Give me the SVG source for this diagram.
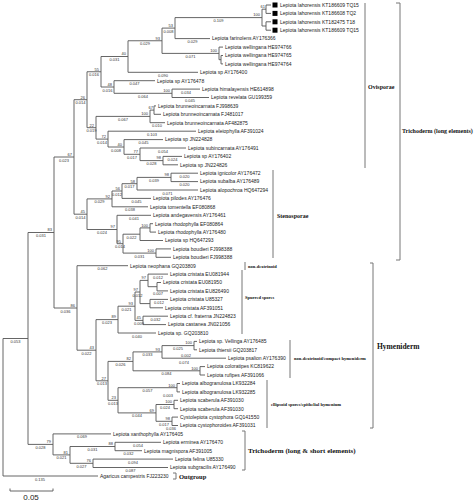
<svg xmlns="http://www.w3.org/2000/svg" width="474" height="501" viewBox="0 0 474 501">
<style>
.e{fill:none;stroke:#555;stroke-width:0.9}
.br{fill:none;stroke:#777;stroke-width:1}
.l{font-family:"Liberation Sans",Arial,sans-serif;font-size:5px;fill:#222}
.b{font-family:"Liberation Sans",Arial,sans-serif;font-size:4px;fill:#333;text-anchor:end}
.d{font-family:"Liberation Sans",Arial,sans-serif;font-size:4px;fill:#333;text-anchor:middle}
.c{font-family:"Liberation Serif","Times New Roman",serif;font-weight:bold;fill:#111}
.sq{fill:#000}
</style>
<rect width="474" height="501" fill="#fff"/>
<g id="connectors">
<path class="e" d="M3,338.5V476 M3,338.5H28 M3,476H98"/>
<path class="e" d="M28,232.5V444.4 M28,232.5H54 M28,444.4H53"/>
<path class="e" d="M54,157V308 M54,157H74 M54,308H77"/>
<path class="e" d="M74,99.7V214.2 M74,99.7H87 M74,214.2H87"/>
<path class="e" d="M87,71.75V127.7 M87,71.75H101 M87,127.7H96"/>
<path class="e" d="M101,56.5V87 M101,56.5H128 M101,87H114"/>
<path class="e" d="M128,40.75V72.3 M128,40.75H162 M128,72.3H198"/>
<path class="e" d="M162,28.1V53.4 M162,28.1H175 M162,53.4H219"/>
<path class="e" d="M175,17.6V38.6 M175,17.6H262 M175,38.6H210"/>
<path class="e" d="M262,9.2V26 M262,9.2H266 M262,26H266"/>
<path class="e" d="M266,5V13.4 M266,5H271 M266,13.4H271 M266,21.8V30.2 M266,21.8H271 M266,30.2H271"/>
<path class="e" d="M219,47.1V59.7 M219,47.1H223 M219,59.7H221 M221,55.5V63.9 M221,55.5H223 M221,63.9H223"/>
<path class="e" d="M114,80.7V93.3 M114,80.7H155 M114,93.3H172"/>
<path class="e" d="M172,89.1V97.5 M172,89.1H200 M172,97.5H209"/>
<path class="e" d="M96,116.4V139.1 M96,116.4H150 M96,139.1H108"/>
<path class="e" d="M150,110.1V122.7 M150,110.1H154 M150,122.7H165 M154,105.9V114.3 M154,105.9H156 M154,114.3H161"/>
<path class="e" d="M108,131.2V147 M108,131.2H196 M108,147H124"/>
<path class="e" d="M124,139.6V154.3 M124,139.6H163 M124,154.3H140"/>
<path class="e" d="M140,148V160.6 M140,148H186 M140,160.6H163"/>
<path class="e" d="M163,156.4V164.8 M163,156.4H182 M163,164.8H178"/>
<path class="e" d="M87,198.9V229.5 M87,198.9H112 M87,229.5H117"/>
<path class="e" d="M112,191V206.8 M112,191H122 M112,206.8H148"/>
<path class="e" d="M122,183.7V198.4 M122,183.7H137 M122,198.4H151"/>
<path class="e" d="M137,177.4V190 M137,177.4H171 M137,190H198"/>
<path class="e" d="M171,173.2V181.6 M171,173.2H198 M171,181.6H198"/>
<path class="e" d="M117,215.3V243.7 M117,215.3H151 M117,243.7H123"/>
<path class="e" d="M123,234.2V253.1 M123,234.2H140 M123,253.1H156"/>
<path class="e" d="M140,227.9V240.5 M140,227.9H150 M140,240.5H163"/>
<path class="e" d="M150,223.7V232.1 M150,223.7H153 M150,232.1H156"/>
<path class="e" d="M156,248.9V257.3 M156,248.9H171 M156,257.3H171"/>
<path class="e" d="M77,265.7V350.2 M77,265.7H128 M77,350.2H96"/>
<path class="e" d="M96,319.6V380.8 M96,319.6H118 M96,380.8H108"/>
<path class="e" d="M118,306.2V333 M118,306.2H135 M118,333H156"/>
<path class="e" d="M135,292V320.4 M135,292H140 M135,320.4H143"/>
<path class="e" d="M140,280.4V303.6 M140,280.4H148 M140,303.6H150"/>
<path class="e" d="M148,274.1V286.7 M148,274.1H168 M148,286.7H157"/>
<path class="e" d="M157,282.5V290.9 M157,282.5H161 M157,290.9H168"/>
<path class="e" d="M150,299.4V307.8 M150,299.4H168 M150,307.8H163"/>
<path class="e" d="M143,316.2V324.6 M143,316.2H168 M143,324.6H166"/>
<path class="e" d="M108,361.4V400.3 M108,361.4H133 M108,400.3H118"/>
<path class="e" d="M133,351.9V370.8 M133,351.9H162 M133,370.8H200"/>
<path class="e" d="M162,345.6V358.2 M162,345.6H194 M162,358.2H226"/>
<path class="e" d="M194,341.4V349.8 M194,341.4H197 M194,349.8H197"/>
<path class="e" d="M200,366.6V375 M200,366.6H205 M200,375H205"/>
<path class="e" d="M118,387.7V412.9 M118,387.7H177 M118,412.9H156"/>
<path class="e" d="M177,383.5V391.9 M177,383.5H180 M177,391.9H180"/>
<path class="e" d="M156,404.5V421.3 M156,404.5H174 M156,421.3H172"/>
<path class="e" d="M174,400.3V408.7 M174,400.3H178 M174,408.7H178"/>
<path class="e" d="M172,417.1V425.5 M172,417.1H178 M172,425.5H178"/>
<path class="e" d="M53,433.9V454.9 M53,433.9H111 M53,454.9H70"/>
<path class="e" d="M70,446.5V463.3 M70,446.5H115 M70,463.3H93"/>
<path class="e" d="M115,442.3V450.7 M115,442.3H161 M115,450.7H142"/>
<path class="e" d="M93,459.1V467.5 M93,459.1H173 M93,467.5H168"/>
</g>
<g id="support">
<text class="b" x="52" y="231">83</text><text class="b" x="51" y="443">79</text>
<text class="b" x="72" y="155.5">67</text><text class="b" x="75" y="306.5">86</text>
<text class="b" x="85" y="98.5">26</text><text class="b" x="85" y="213">45</text>
<text class="b" x="99" y="70.5">55</text><text class="b" x="94" y="126.5">22</text>
<text class="b" x="126" y="55.3">40</text><text class="b" x="112" y="85.8">48</text>
<text class="b" x="160" y="39.5">93</text><text class="b" x="173" y="26.9">53</text>
<text class="b" x="217" y="52.2">100</text><text class="b" x="260" y="16.4">100</text>
<text class="b" x="265" y="8">61</text><text class="b" x="170" y="92.1">100</text>
<text class="b" x="148" y="115.2">100</text><text class="b" x="153" y="108.9">67</text>
<text class="b" x="106" y="137.9">72</text><text class="b" x="122" y="145.8">40</text>
<text class="b" x="138" y="153.1">77</text><text class="b" x="161" y="159.4">98</text>
<text class="b" x="110" y="197.7">92</text><text class="b" x="115" y="228.3">97</text>
<text class="b" x="120" y="189.8">56</text><text class="b" x="135" y="182.5">58</text>
<text class="b" x="169" y="176.2">98</text><text class="b" x="121" y="242.5">95</text>
<text class="b" x="148" y="226.7">100</text><text class="b" x="154" y="251.9">100</text>
<text class="b" x="94" y="349">43</text><text class="b" x="116" y="318.4">89</text>
<text class="b" x="106" y="379.6">27</text><text class="b" x="133" y="305">93</text>
<text class="b" x="138" y="290.8">97</text><text class="b" x="141" y="319.2">45</text>
<text class="b" x="146" y="279.2">97</text><text class="b" x="131" y="360.2">82</text>
<text class="b" x="116" y="399.1">23</text><text class="b" x="160" y="350.7">93</text>
<text class="b" x="192" y="344.4">100</text><text class="b" x="198" y="369.6">100</text>
<text class="b" x="175" y="386.5">100</text><text class="b" x="154" y="411.7">69</text>
<text class="b" x="172" y="403.3">100</text><text class="b" x="170" y="420.1">98</text>
<text class="b" x="68" y="453.7">81</text><text class="b" x="113" y="445.3">88</text>
<text class="b" x="91" y="462.1">76</text>
</g>
<g id="lengths">
<text class="d" x="15.5" y="343">0.053</text><text class="d" x="40" y="480.5">0.135</text>
<text class="d" x="41" y="237">0.031</text><text class="d" x="40.5" y="449">0.028</text>
<text class="d" x="64" y="161.5">0.023</text><text class="d" x="65.5" y="312.5">0.036</text>
<text class="d" x="80.5" y="104.2">0.014</text><text class="d" x="80.5" y="218.7">0.014</text>
<text class="d" x="94" y="76.2">0.016</text><text class="d" x="91.5" y="132.2">0.019</text>
<text class="d" x="114.5" y="61">0.031</text><text class="d" x="107.5" y="91.5">0.016</text>
<text class="d" x="145" y="45.2">0.029</text><text class="d" x="163" y="76.8">0.090</text>
<text class="d" x="168.5" y="32.6">0.008</text><text class="d" x="190.5" y="57.9">0.071</text>
<text class="d" x="218.5" y="22.1">0.109</text><text class="d" x="192.5" y="43.1">0.029</text>
<text class="d" x="134.5" y="85.2">0.047</text><text class="d" x="143" y="97.8">0.064</text>
<text class="d" x="186" y="93.6">0.034</text><text class="d" x="190" y="102">0.045</text>
<text class="d" x="123" y="120.9">0.067</text><text class="d" x="157" y="127.2">0.010</text>
<text class="d" x="102" y="143.6">0.014</text><text class="d" x="152" y="135.7">0.103</text>
<text class="d" x="116" y="151.5">0.008</text><text class="d" x="143.5" y="144.1">0.045</text>
<text class="d" x="132" y="158.8">0.017</text><text class="d" x="163" y="152.5">0.054</text>
<text class="d" x="151.5" y="165.1">0.028</text><text class="d" x="172.5" y="160.9">0.024</text>
<text class="d" x="99.5" y="203.4">0.029</text><text class="d" x="102" y="234">0.024</text>
<text class="d" x="117" y="195.5">0.012</text><text class="d" x="130" y="211.3">0.038</text>
<text class="d" x="129.5" y="188.2">0.017</text><text class="d" x="136.5" y="202.9">0.045</text>
<text class="d" x="167.5" y="194.5">0.071</text><text class="d" x="154" y="181.9">0.039</text>
<text class="d" x="184.5" y="177.7">0.020</text><text class="d" x="184.5" y="186.1">0.020</text>
<text class="d" x="134" y="219.8">0.041</text><text class="d" x="120" y="248.2">0.014</text>
<text class="d" x="131.5" y="238.7">0.022</text><text class="d" x="139.5" y="257.6">0.031</text>
<text class="d" x="102.5" y="270.2">0.062</text><text class="d" x="86.5" y="354.7">0.022</text>
<text class="d" x="107" y="324.1">0.023</text><text class="d" x="102" y="385.3">0.013</text>
<text class="d" x="126.5" y="310.7">0.021</text><text class="d" x="137" y="337.5">0.040</text>
<text class="d" x="137.5" y="296.5">0.012</text><text class="d" x="139" y="324.9">0.009</text>
<text class="d" x="155.5" y="320.7">0.032</text><text class="d" x="158" y="278.6">0.012</text>
<text class="d" x="158" y="295.4">0.007</text><text class="d" x="159" y="303.9">0.012</text>
<text class="d" x="120.5" y="365.9">0.026</text><text class="d" x="113" y="404.8">0.013</text>
<text class="d" x="147.5" y="356.4">0.033</text><text class="d" x="166.5" y="375.3">0.084</text>
<text class="d" x="184" y="364">0.074</text><text class="d" x="178" y="350.1">0.025</text>
<text class="d" x="186" y="356.6">0.002</text><text class="d" x="147.5" y="392.2">0.057</text>
<text class="d" x="137" y="417.4">0.044</text><text class="d" x="168" y="396.5">0.003</text>
<text class="d" x="165" y="409">0.024</text><text class="d" x="164" y="425.8">0.017</text>
<text class="d" x="171" y="430.2">0.036</text><text class="d" x="82" y="438.4">0.069</text>
<text class="d" x="61.5" y="459.4">0.021</text><text class="d" x="92.5" y="451">0.031</text>
<text class="d" x="81.5" y="467.8">0.027</text><text class="d" x="138" y="446.8">0.054</text>
<text class="d" x="128.5" y="455.2">0.032</text><text class="d" x="133" y="463.6">0.094</text>
<text class="d" x="130.5" y="472">0.087</text>
</g>
<g id="n1"><rect class="sq" x="272.5" y="2.5" width="5" height="5"/><text class="l" x="280" y="6.8">Lepiota lahorensis KT186609 TQ15</text></g>
<g id="n2"><rect class="sq" x="272.5" y="10.9" width="5" height="5"/><text class="l" x="280" y="15.2">Lepiota lahorensis KT186608 TQ2</text></g>
<g id="n3"><rect class="sq" x="272.5" y="19.3" width="5" height="5"/><text class="l" x="280" y="23.6">Lepiota lahorensis KT182475 T18</text></g>
<g id="n4"><rect class="sq" x="272.5" y="27.7" width="5" height="5"/><text class="l" x="280" y="32">Lepiota lahorensis KT186609 TQ15</text></g>
<g id="n5"><text class="l" x="212" y="40.4">Lepiota farinolens AY176366</text></g>
<g id="n6"><text class="l" x="225" y="48.9">Lepiota wellingana HE974766</text></g>
<g id="n7"><text class="l" x="225" y="57.3">Lepiota wellingana HE974765</text></g>
<g id="n8"><text class="l" x="225" y="65.7">Lepiota wellingana HE974764</text></g>
<g id="n9"><text class="l" x="200" y="74.1">Lepiota sp AY176400</text></g>
<g id="n10"><text class="l" x="157" y="82.5">Lepiota sp AY176478</text></g>
<g id="n11"><text class="l" x="202" y="90.9">Lepiota himalayensis HE614898</text></g>
<g id="n12"><text class="l" x="211" y="99.3">Lepiota revelata GU199359</text></g>
<g id="n13"><text class="l" x="158" y="107.7">Lepiota brunneoincarnata FJ998639</text></g>
<g id="n14"><text class="l" x="163" y="116.1">Lepiota brunneoincarnata FJ481017</text></g>
<g id="n15"><text class="l" x="167" y="124.5">Lepiota brunneoincarnata AF482875</text></g>
<g id="n16"><text class="l" x="198" y="133">Lepiota eleiophylla AF391024</text></g>
<g id="n17"><text class="l" x="165" y="141.4">Lepiota sp JN224828</text></g>
<g id="n18"><text class="l" x="188" y="149.8">Lepiota subincarnata AY176491</text></g>
<g id="n19"><text class="l" x="184" y="158.2">Lepiota sp AY176402</text></g>
<g id="n20"><text class="l" x="180" y="166.6">Lepiota sp JN224826</text></g>
<g id="n21"><text class="l" x="200" y="175">Lepiota ignicolor AY176472</text></g>
<g id="n22"><text class="l" x="200" y="183.4">Lepiota subalba AY176489</text></g>
<g id="n23"><text class="l" x="200" y="191.8">Lepiota alopochroa HQ647294</text></g>
<g id="n24"><text class="l" x="153" y="200.2">Lepiota pilodes AY176476</text></g>
<g id="n25"><text class="l" x="150" y="208.6">Lepiota tomentella EF080868</text></g>
<g id="n26"><text class="l" x="153" y="217.1">Lepiota andegavensis AY176461</text></g>
<g id="n27"><text class="l" x="155" y="225.5">Lepiota rhodophylla EF080864</text></g>
<g id="n28"><text class="l" x="158" y="233.9">Lepiota rhodophylla AY176480</text></g>
<g id="n29"><text class="l" x="165" y="242.3">Lepiota sp HQ647293</text></g>
<g id="n30"><text class="l" x="173" y="250.7">Lepiota boudieri FJ998388</text></g>
<g id="n31"><text class="l" x="173" y="259.1">Lepiota boudieri FJ998388</text></g>
<g id="n32"><text class="l" x="130" y="267.5">Lepiota neophana GQ203809</text></g>
<g id="n33"><text class="l" x="170" y="275.9">Lepiota cristata EU081944</text></g>
<g id="n34"><text class="l" x="163" y="284.3">Lepiota cristata EU081950</text></g>
<g id="n35"><text class="l" x="170" y="292.7">Lepiota cristata EU826490</text></g>
<g id="n36"><text class="l" x="170" y="301.2">Lepiota cristata U85327</text></g>
<g id="n37"><text class="l" x="165" y="309.6">Lepiota cristata AF391051</text></g>
<g id="n38"><text class="l" x="170" y="318">Lepiota cf. fraterna JN224823</text></g>
<g id="n39"><text class="l" x="168" y="326.4">Lepiota castanea JN021056</text></g>
<g id="n40"><text class="l" x="158" y="334.8">Lepiota sp. GQ203810</text></g>
<g id="n41"><text class="l" x="199" y="343.2">Lepiota sp. Vellinga AY176485</text></g>
<g id="n42"><text class="l" x="199" y="351.6">Lepiota thiersii GQ203817</text></g>
<g id="n43"><text class="l" x="228" y="360">Lepiota psalion AY176390</text></g>
<g id="n44"><text class="l" x="207" y="368.4">Lepiota coloratipes KC819622</text></g>
<g id="n45"><text class="l" x="207" y="376.8">Lepiota rufipes AF391066</text></g>
<g id="n46"><text class="l" x="182" y="385.3">Lepiota albogranulosa LK932284</text></g>
<g id="n47"><text class="l" x="182" y="393.7">Lepiota albogranulosa LK932285</text></g>
<g id="n48"><text class="l" x="180" y="402.1">Lepiota scaberula AF391030</text></g>
<g id="n49"><text class="l" x="180" y="410.5">Lepiota scaberula AF391030</text></g>
<g id="n50"><text class="l" x="180" y="418.9">Cystolepiota cystophora GQ141550</text></g>
<g id="n51"><text class="l" x="180" y="427.3">Lepiota cystophoroides AF391031</text></g>
<g id="n52"><text class="l" x="113" y="435.7">Lepiota xanthophylla AY176405</text></g>
<g id="n53"><text class="l" x="163" y="444.1">Lepiota erminea AY176470</text></g>
<g id="n54"><text class="l" x="144" y="452.5">Lepiota magnispora AF391005</text></g>
<g id="n55"><text class="l" x="175" y="460.9">Lepiota felina U85330</text></g>
<g id="n56"><text class="l" x="170" y="469.3">Lepiota subgracilis AY176490</text></g>
<g id="n57"><text class="l" x="100" y="477.8">Agaricus campestris FJ223230</text></g>
<g id="clade-ovisporae"><path class="br" d="M365,3V168"/><text class="c" x="368" y="89" font-size="6">Ovisporae</text></g>
<g id="clade-trichoderm-long"><path class="br" d="M396,3H400V260H396"/><text class="c" x="402" y="133" font-size="6">Trichoderm (long elements)</text></g>
<g id="clade-stenosporae"><path class="br" d="M273,170V258"/><text class="c" x="277" y="218" font-size="6">Stenosporae</text></g>
<g id="clade-nondextrinoid"><path class="br" d="M245,262V270"/><text class="c" x="248" y="268" font-size="4.5">non-dextrinoid</text></g>
<g id="clade-spurred"><path class="br" d="M242,270V334"/><text class="c" x="245" y="299" font-size="4.5">Spurred spores</text></g>
<g id="clade-compact"><path class="br" d="M290,340V378"/><text class="c" x="294" y="360" font-size="4.5">non-dextrinoid/compact hymeniderm</text></g>
<g id="clade-ellipsoid"><path class="br" d="M267,380V428"/><text class="c" x="271" y="406" font-size="4.5">ellipsoid spores/epithelial hymenium</text></g>
<g id="clade-hymeniderm"><path class="br" d="M370,263H373V428H370"/><text class="c" x="377" y="349" font-size="7.5">Hymeniderm</text></g>
<g id="clade-trichoderm-ls"><path class="br" d="M242,431H245V470H242"/><text class="c" x="248" y="453" font-size="7">Trichoderm (long &amp; short elements)</text></g>
<g id="clade-outgroup"><path class="br" d="M173,473H176V479H173"/><text class="c" x="179" y="478.5" font-size="6.5">Outgroup</text></g>
<g id="scalebar"><path class="e" d="M10,488.5V491H53V488.5"/><text x="31" y="500" font-family="Liberation Sans,Arial,sans-serif" font-size="8" fill="#222" text-anchor="middle">0.05</text></g>
</svg>
